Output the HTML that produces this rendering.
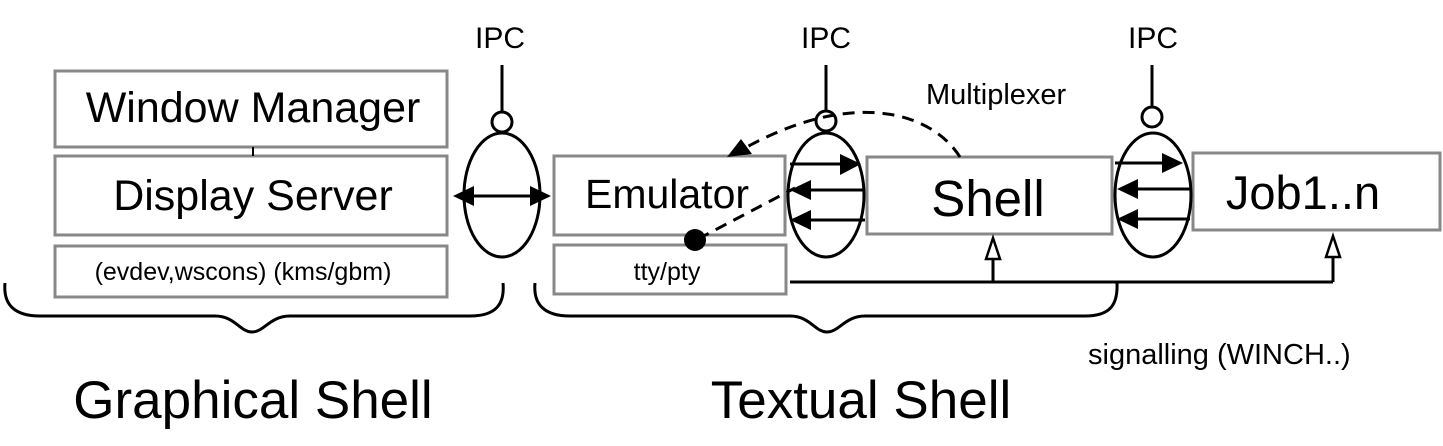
<!DOCTYPE html>
<html><head><meta charset="utf-8"><style>
html,body{margin:0;padding:0;background:#fff;}
svg{display:block;}
text{font-family:"Liberation Sans",sans-serif;fill:#000;}
</style></head><body>
<svg width="1443" height="446" viewBox="0 0 1443 446" xmlns="http://www.w3.org/2000/svg">
<g fill="#fff" stroke="#888" stroke-width="3">
<rect x="55" y="71" width="392" height="76"/>
<rect x="55" y="156" width="392" height="79"/>
<rect x="55" y="246" width="392" height="51"/>
<rect x="554" y="156" width="231" height="79"/>
<rect x="554" y="245" width="232" height="49"/>
<rect x="867" y="157" width="245" height="77"/>
<rect x="1193" y="153" width="247" height="77"/>
</g>
<line x1="253" y1="147" x2="253" y2="156" stroke="#000" stroke-width="2"/>
<g text-anchor="middle">
<text x="253" y="122" font-size="43">Window Manager</text>
<text x="253" y="210" font-size="43">Display Server</text>
<text x="667" y="208" font-size="41">Emulator</text>
<text x="988" y="216" font-size="51">Shell</text>
<text x="1303" y="209" font-size="47">Job1..n</text>
</g>
<text x="243" y="280" font-size="25" text-anchor="middle">(evdev,wscons) (kms/gbm)</text>
<text x="667" y="280" font-size="25" text-anchor="middle">tty/pty</text>
<g font-size="30" text-anchor="middle">
<text x="500" y="48">IPC</text>
<text x="826" y="48">IPC</text>
<text x="1153" y="48">IPC</text>
</g>
<text x="926" y="104" font-size="29">Multiplexer</text>
<text x="1088" y="364" font-size="29">signalling (WINCH..)</text>
<text x="253" y="418" font-size="53" text-anchor="middle">Graphical Shell</text>
<text x="861" y="418" font-size="53" text-anchor="middle">Textual Shell</text>
<g fill="none" stroke="#000" stroke-width="3">
<ellipse cx="502" cy="195" rx="38" ry="62"/>
<circle cx="502" cy="122" r="10"/>
<line x1="502" y1="65" x2="502" y2="112"/>
<ellipse cx="826" cy="195" rx="38" ry="62"/>
<circle cx="826" cy="121" r="10"/>
<line x1="826" y1="65" x2="826" y2="111"/>
<ellipse cx="1153" cy="195" rx="38" ry="62"/>
<circle cx="1152" cy="117" r="10"/>
<line x1="1152" y1="65" x2="1152" y2="107"/>
<line x1="470" y1="196" x2="535" y2="196"/>
<line x1="790" y1="164" x2="845" y2="164"/>
<line x1="865" y1="190" x2="808" y2="190"/>
<line x1="865" y1="220" x2="808" y2="220"/>
<line x1="1115" y1="163" x2="1170" y2="163"/>
<line x1="1190" y1="189" x2="1133" y2="189"/>
<line x1="1190" y1="219" x2="1133" y2="219"/>
<path d="M960 157 C 930 110, 850 90, 745 148" stroke-dasharray="12 8"/>
<path d="M698 239 L 795 188" stroke-dasharray="12 8"/>
<line x1="790" y1="282" x2="1333" y2="282"/>
<line x1="993" y1="282" x2="993" y2="258"/>
<line x1="1333" y1="282" x2="1333" y2="258"/>
<path d="M5 283 C 3 305, 15 316, 40 316 L 215 316 C 235 316, 240 332, 252 332 C 264 332, 270 316, 290 316 L 470 316 C 495 316, 505 305, 503 283"/>
<path d="M535 283 C 533 305, 545 316, 570 316 L 790 316 C 810 316, 815 332, 827 332 C 839 332, 845 316, 865 316 L 1085 316 C 1110 316, 1118 305, 1117 283"/>
</g>
<g fill="#000">
<polygon points="453,196 474,186 474,206"/>
<polygon points="551,196 530,186 530,206"/>
<polygon points="861,164 840,154 840,175"/>
<polygon points="790,190 811,180 811,200"/>
<polygon points="790,220 811,210 811,230"/>
<polygon points="1183,163 1162,153 1162,173"/>
<polygon points="1117,189 1138,179 1138,199"/>
<polygon points="1117,219 1138,209 1138,229"/>
<polygon points="727,157 741,139 752,154"/>
<circle cx="695" cy="240" r="11"/>
</g>
<g fill="#fff" stroke="#000" stroke-width="2.5">
<polygon points="993,238 986,259 1000,259"/>
<polygon points="1333,236 1326,257 1340,257"/>
</g>
</svg>
</body></html>
